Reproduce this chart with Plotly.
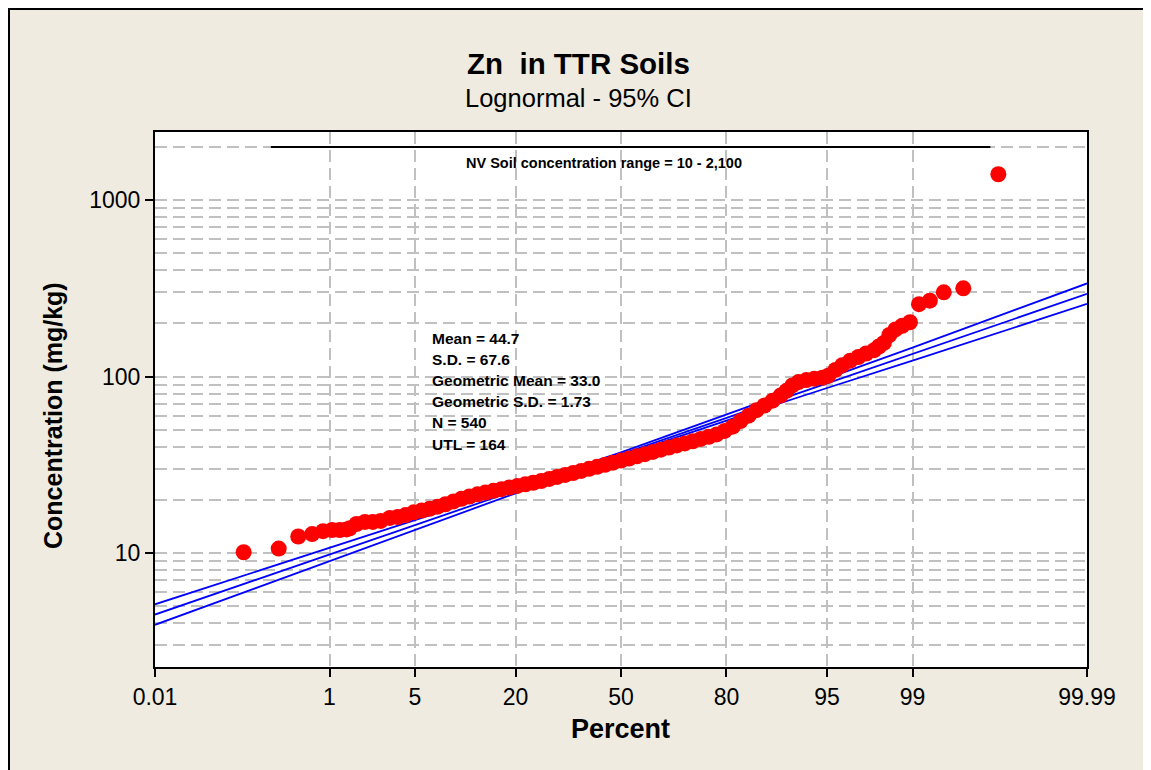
import math
from statistics import NormalDist

import plotly.graph_objects as go

# Plotting positions (percent) and Zn concentrations (mg/kg)
pct = [
    0.130, 0.315, 0.500, 0.685, 0.870, 1.055, 1.240, 1.425,
    1.52, 1.74, 2.05, 2.38, 2.76, 3.25, 3.74, 4.28, 4.91, 5.58, 6.33,
    7.17, 8.06, 9.07, 10.15, 11.32, 12.62, 13.96, 15.43, 17.01, 18.63,
    20.41, 22.27, 24.17, 26.23, 28.35, 30.51, 32.80, 35.13, 37.53, 39.95,
    42.43, 44.95, 47.45, 50.00, 52.55, 55.05, 57.57, 60.05, 62.47, 64.87,
    67.20, 69.49, 71.65, 73.77, 75.83, 77.73, 79.59, 81.37, 82.99, 84.57,
    86.04, 87.38, 88.68, 89.85, 90.67, 91.43, 92.16, 93.05, 93.86, 94.60,
    95.09, 95.65, 96.13, 96.63, 97.09, 97.48,
    97.835, 98.020, 98.205, 98.390, 98.575, 98.760, 98.945,
    99.130, 99.315, 99.500, 99.685, 99.870,
]
conc = [
    10.1, 10.6, 12.4, 12.8, 13.3, 13.5, 13.5, 13.6,
    13.8, 14.6, 15.0, 15.0, 15.2, 15.8, 16.0, 16.4, 17.0, 17.4, 17.8,
    18.3, 18.9, 19.6, 20.3, 20.9, 21.5, 22.0, 22.5, 23.0, 23.5,
    24.0, 24.5, 25.0, 25.6, 26.3, 27.0, 27.7, 28.4, 29.2, 30.0,
    30.8, 31.6, 32.5, 33.4, 34.3, 35.3, 36.3, 37.4, 38.5, 39.6,
    40.7, 41.8, 43.0, 44.3, 45.6, 47.0, 49.2, 52.0, 56.0, 60.0,
    64.5, 68.5, 73.0, 78.0, 83.0, 89.0, 93.0, 95.5, 97.0, 98.5,
    101, 109, 116, 123, 129, 135,
    141, 148, 155, 172, 185, 194, 203,
    257, 269, 300, 316, 1400,
]

# Fitted lognormal line and 95% confidence bounds
fit_pct = [0.01, 1, 5, 20, 50, 80, 95, 99, 99.99]
fit_mid = [4.48, 9.80, 14.4, 22.6, 36.3, 58.3, 91.6, 134, 294]
fit_upper = [5.12, 10.7, 15.3, 23.5, 37.2, 60.6, 97.5, 146, 337]
fit_lower = [3.92, 8.99, 13.5, 21.8, 35.5, 56.2, 86.1, 123, 258]

tick_pct = [0.01, 1, 5, 20, 50, 80, 95, 99, 99.99]
tick_text = ["0.01", "1", "5", "20", "50", "80", "95", "99", "99.99"]

y_ticks = [10, 100, 1000]
y_grid = [3, 4, 5, 6, 7, 8, 9, 20, 30, 40, 50, 60, 70, 80, 90,
          200, 300, 400, 500, 600, 700, 800, 900, 2000]

nv_pct = [0.26, 99.84]
nv_level = 2000
nv_label = "NV Soil concentration range = 10 - 2,100"

stats_lines = [
    "Mean = 44.7",
    "S.D. = 67.6",
    "Geometric Mean = 33.0",
    "Geometric S.D. = 1.73",
    "N = 540",
    "UTL = 164",
]

nd = NormalDist()


def probit(p):
    return nd.inv_cdf(p / 100.0)


# page is shifted by the 8px body margin of the html page
OFF = 8
W, H = 1151 - OFF, 770 - OFF
# plot area in page pixels
L, R, T, B = 155, 1087, 132, 667


def px(x):
    return (x - L) / (R - L)


def py(y):
    return (B - y) / (B - T)


font = "Liberation Sans, Arial, sans-serif"
grid_col = "#c0c0c0"
dash = "12px,6px"

fig = go.Figure()

for vals in (fit_upper, fit_mid, fit_lower):
    fig.add_trace(
        go.Scatter(
            x=[probit(p) for p in fit_pct],
            y=vals,
            mode="lines",
            line=dict(color="#0000ff", width=1.8),
            hoverinfo="skip",
        )
    )

fig.add_trace(
    go.Scatter(
        x=[probit(p) for p in pct],
        y=conc,
        mode="markers",
        marker=dict(color="#ff0000", size=16, line=dict(width=0)),
    )
)

# NV soil range line
fig.add_trace(
    go.Scatter(
        x=[probit(p) for p in nv_pct],
        y=[nv_level, nv_level],
        mode="lines",
        line=dict(color="black", width=2),
        hoverinfo="skip",
    )
)

annotations = [
    dict(text="<b>Zn\u00a0 in TTR Soils</b>", x=px(578), y=py(63),
         font=dict(size=29.5)),
    dict(text="Lognormal - 95% CI", x=px(578), y=py(98), font=dict(size=25.5)),
    dict(text="<b>Percent</b>", x=px(620), y=py(729), font=dict(size=27)),
    dict(text="<b>Concentration (mg/kg)</b>", x=px(53), y=py(416),
         textangle=-90, font=dict(size=25)),
    dict(text="<b>" + nv_label + "</b>", x=px(604), y=py(163),
         font=dict(size=14.5)),
]
for i, line in enumerate(stats_lines):
    annotations.append(
        dict(text="<b>" + line + "</b>", x=px(430), y=py(338 + i * 21.2),
             xanchor="left", font=dict(size=15.5))
    )
for a in annotations:
    a.update(xref="paper", yref="paper", showarrow=False)
    a.setdefault("xanchor", "center")
    a["yanchor"] = "middle"

fig.update_layout(
    width=W,
    height=H,
    margin=dict(l=L - OFF, r=1151 - R, t=T - OFF, b=770 - B),
    paper_bgcolor="#efebe1",
    plot_bgcolor="white",
    showlegend=False,
    font=dict(family=font, color="black"),
    annotations=annotations,
    shapes=[
        dict(type="rect", xref="paper", yref="paper",
             x0=px(9), x1=px(1148), y0=py(800), y1=py(9),
             line=dict(color="black", width=2), layer="below"),
    ],
)

fig.update_xaxes(
    range=[probit(0.01), probit(99.99)],
    tickmode="array",
    tickvals=[probit(p) for p in tick_pct],
    ticktext=tick_text,
    tickfont=dict(size=23),
    ticks="outside",
    ticklen=8,
    tickwidth=2,
    tickcolor="black",
    showline=True,
    linecolor="black",
    linewidth=2,
    mirror=True,
    showgrid=True,
    gridcolor=grid_col,
    gridwidth=2,
    griddash=dash,
    zeroline=False,
)

fig.update_yaxes(
    type="log",
    range=[math.log10(2.26), math.log10(2430)],
    tickmode="array",
    tickvals=y_ticks,
    ticktext=[str(v) for v in y_ticks],
    tickfont=dict(size=23),
    ticks="outside",
    ticklen=8,
    tickwidth=2,
    tickcolor="black",
    showline=True,
    linecolor="black",
    linewidth=2,
    mirror=True,
    showgrid=True,
    gridcolor=grid_col,
    gridwidth=2,
    griddash=dash,
    zeroline=False,
    minor=dict(
        tickmode="array",
        tickvals=y_grid,
        ticks="",
        showgrid=True,
        gridcolor=grid_col,
        gridwidth=2,
        griddash=dash,
    ),
)

fig.write_html("out.html")
